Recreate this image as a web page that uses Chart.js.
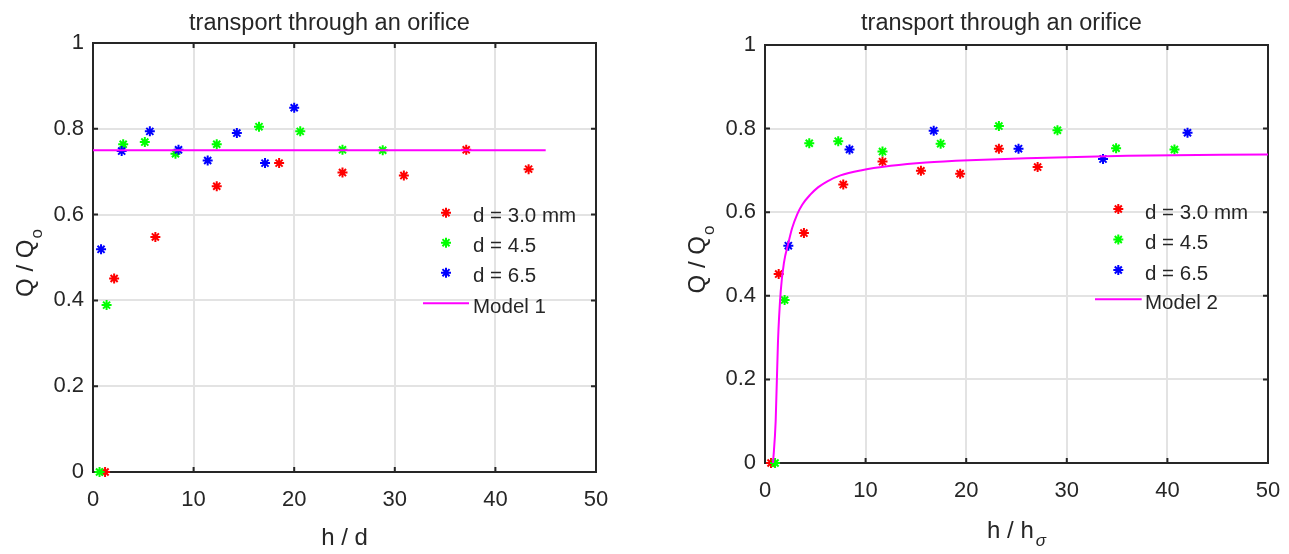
<!DOCTYPE html>
<html>
<head>
<meta charset="utf-8">
<title>transport through an orifice</title>
<script src="https://cdn.jsdelivr.net/npm/chart.js@4.4.1/dist/chart.umd.min.js"></script>
<style>
  html, body { margin: 0; padding: 0; background: #fff; }
  #wrap { position: relative; width: 1289px; height: 554px; overflow: hidden; }
  .panel { position: absolute; top: 0; height: 554px; }
  #p1 { left: 0; width: 645px; }
  #p2 { left: 645px; width: 644px; }
</style>
</head>
<body>
<div id="wrap">
  <div class="panel" id="p1"><canvas id="c1" width="645" height="554"></canvas></div>
  <div class="panel" id="p2"><canvas id="c2" width="644" height="554"></canvas></div>
</div>
<script>
(function () {
  'use strict';

  // ticks (shared by both panels)
  var xTicks = [0, 10, 20, 30, 40, 50];
  var xTickLabels = ['0', '10', '20', '30', '40', '50'];
  var yTicks = [0, 0.2, 0.4, 0.6, 0.8, 1];
  var yTickLabels = ['0', '0.2', '0.4', '0.6', '0.8', '1'];

  // left panel: Q/Qo vs h/d
  var red1X = [1.2, 2.1, 6.2, 12.3, 18.5, 24.8, 30.9, 37.1, 43.3];
  var red1Y = [0, 0.451, 0.548, 0.666, 0.72, 0.698, 0.691, 0.751, 0.706];
  var green1X = [0.65, 1.35, 3.0, 5.15, 8.2, 12.3, 16.5, 20.6, 24.8, 28.8];
  var green1Y = [0, 0.389, 0.764, 0.769, 0.742, 0.764, 0.805, 0.794, 0.751, 0.75];
  var blue1X = [0.8, 2.85, 5.65, 8.5, 11.4, 14.3, 17.1, 20.0];
  var blue1Y = [0.519, 0.748, 0.794, 0.751, 0.726, 0.79, 0.72, 0.849];
  var model1X = [0, 45];
  var model1Y = [0.75, 0.75];
  var legend1 = ['d = 3.0 mm', 'd = 4.5', 'd = 6.5', 'Model 1'];

  // right panel: Q/Qo vs h/h_sigma
  var red2X = [0.6, 1.36, 3.87, 7.78, 11.68, 15.5, 19.4, 23.25, 27.1];
  var red2Y = [0, 0.452, 0.55, 0.666, 0.721, 0.699, 0.692, 0.752, 0.708];
  var green2X = [1.0, 1.95, 4.4, 7.28, 11.68, 17.46, 23.25, 29.07, 34.9, 40.7];
  var green2Y = [0, 0.39, 0.765, 0.77, 0.745, 0.764, 0.806, 0.796, 0.753, 0.75];
  var blue2X = [2.32, 8.4, 16.77, 25.2, 33.6, 42.0];
  var blue2Y = [0.52, 0.75, 0.795, 0.752, 0.727, 0.79];
  var model2X = [0.8, 1.06, 1.29, 1.56, 1.89, 2.32, 2.7, 3.2, 3.7, 4.5, 5.3, 6.2, 7.5, 9.5, 12.5, 16, 21, 26, 36, 50];
  var model2Y = [0, 0.10, 0.29, 0.41, 0.48, 0.526, 0.562, 0.595, 0.618, 0.642, 0.66, 0.674, 0.688, 0.70, 0.711, 0.719, 0.725, 0.729, 0.735, 0.738];
  var legend2 = ['d = 3.0 mm', 'd = 4.5', 'd = 6.5', 'Model 2'];

  var FONT = '"Liberation Sans", Arial, Helvetica, sans-serif';
  var INK = '#262626';
  var GRID = '#e3e3e3';
  var RED = '#ff0000', GREEN = '#00ff00', BLUE = '#0000ff', MAGENTA = '#ff00ff';

  function pts(xs, ys) {
    return xs.map(function (x, i) { return { x: x, y: ys[i] }; });
  }

  function star(ctx, x, y, r, color) {
    var d = r * Math.SQRT1_2;
    ctx.save();
    ctx.strokeStyle = color;
    ctx.lineWidth = 2;
    ctx.beginPath();
    ctx.moveTo(x - r, y); ctx.lineTo(x + r, y);
    ctx.moveTo(x, y - r); ctx.lineTo(x, y + r);
    ctx.moveTo(x - d, y - d); ctx.lineTo(x + d, y + d);
    ctx.moveTo(x - d, y + d); ctx.lineTo(x + d, y - d);
    ctx.stroke();
    ctx.restore();
  }

  // frame, inward ticks, titles and legend
  function makeDecor(cfg) {
    return {
      id: 'decor',
      beforeDatasetsDraw: function (chart) {
        var a = chart.chartArea, ctx = chart.ctx;
        var xs = chart.scales.x, ys = chart.scales.y;
        ctx.save();
        ctx.strokeStyle = INK;
        ctx.lineWidth = 2;
        ctx.strokeRect(a.left, a.top, a.right - a.left, a.bottom - a.top);
        ctx.beginPath();
        xTicks.forEach(function (v) {
          var px = xs.getPixelForValue(v);
          ctx.moveTo(px, a.bottom); ctx.lineTo(px, a.bottom - 5);
          ctx.moveTo(px, a.top); ctx.lineTo(px, a.top + 5);
        });
        yTicks.forEach(function (v) {
          var py = ys.getPixelForValue(v);
          ctx.moveTo(a.left, py); ctx.lineTo(a.left + 5, py);
          ctx.moveTo(a.right, py); ctx.lineTo(a.right - 5, py);
        });
        ctx.stroke();
        ctx.restore();
      },
      afterDraw: function (chart) {
        var a = chart.chartArea, ctx = chart.ctx;
        var cx = (a.left + a.right) / 2;
        ctx.save();
        ctx.fillStyle = INK;
        ctx.textBaseline = 'alphabetic';

        // title
        ctx.font = '23.5px ' + FONT;
        ctx.textAlign = 'center';
        ctx.fillText('transport through an orifice', cx - 15, 30);

        // x label with optional subscript
        ctx.textAlign = 'left';
        ctx.font = '24px ' + FONT;
        var wMain = ctx.measureText(cfg.xLabel).width;
        var wSub = 0;
        if (cfg.xSub) {
          ctx.font = 'italic 17px ' + FONT;
          wSub = ctx.measureText(cfg.xSub).width + 2;
        }
        var sx = cx - (wMain + wSub) / 2;
        ctx.font = '24px ' + FONT;
        ctx.fillText(cfg.xLabel, sx, cfg.xBase);
        if (cfg.xSub) {
          ctx.font = 'italic 17px ' + FONT;
          ctx.fillText(cfg.xSub, sx + wMain + 2, cfg.xBase + 8);
        }

        // y label Q / Q_o, rotated
        ctx.save();
        ctx.translate(a.left - 60, (a.top + a.bottom) / 2 + 6);
        ctx.rotate(-Math.PI / 2);
        ctx.font = '24px ' + FONT;
        var w1 = ctx.measureText('Q / Q').width;
        ctx.font = '17px ' + FONT;
        var w2 = ctx.measureText('o').width;
        var st = -(w1 + w2) / 2;
        ctx.font = '24px ' + FONT;
        ctx.fillText('Q / Q', st, 0);
        ctx.font = '17px ' + FONT;
        ctx.fillText('o', st + w1 + 1, 9);
        ctx.restore();

        // legend
        var L = cfg.legend;
        var colors = [RED, GREEN, BLUE];
        ctx.font = '20.5px ' + FONT;
        for (var i = 0; i < 3; i++) {
          star(ctx, L.mx, L.rows[i], 5, colors[i]);
          ctx.fillStyle = INK;
          ctx.fillText(L.labels[i], L.tx, L.rows[i] + 9.5);
        }
        ctx.strokeStyle = MAGENTA;
        ctx.lineWidth = 2;
        ctx.beginPath();
        ctx.moveTo(L.lx0, L.rows[3]);
        ctx.lineTo(L.lx1, L.rows[3]);
        ctx.stroke();
        ctx.fillStyle = INK;
        ctx.fillText(L.labels[3], L.tx, L.rows[3] + 9.5);
        ctx.restore();
      }
    };
  }

  function scatterSet(label, xs, ys, color, order) {
    return {
      label: label,
      data: pts(xs, ys),
      pointStyle: 'star',
      pointRadius: 5,
      pointHoverRadius: 5,
      pointBorderWidth: 2,
      borderColor: color,
      backgroundColor: color,
      showLine: false,
      clip: false,
      order: order
    };
  }

  function makeChart(canvasId, sets, layout, decorCfg) {
    return new Chart(document.getElementById(canvasId), {
      type: 'scatter',
      data: {
        datasets: [
          scatterSet(sets.labels[0], sets.rx, sets.ry, RED, 4),
          scatterSet(sets.labels[1], sets.gx, sets.gy, GREEN, 3),
          scatterSet(sets.labels[2], sets.bx, sets.by, BLUE, 2),
          {
            label: sets.labels[3],
            data: pts(sets.mx, sets.my),
            showLine: true,
            borderColor: MAGENTA,
            backgroundColor: MAGENTA,
            borderWidth: 2,
            pointRadius: 0,
            pointHoverRadius: 0,
            cubicInterpolationMode: 'monotone',
            clip: false,
            order: 1
          }
        ]
      },
      options: {
        responsive: false,
        animation: false,
        devicePixelRatio: 1,
        layout: { padding: { left: 0, top: layout.top, right: layout.right, bottom: 0 } },
        plugins: { legend: { display: false }, title: { display: false }, tooltip: { enabled: false } },
        scales: {
          x: {
            type: 'linear', min: 0, max: 50,
            afterBuildTicks: function (s) { s.ticks = xTicks.map(function (v) { return { value: v }; }); },
            afterFit: function (s) { s.height = layout.xh; s.paddingLeft = 0; s.paddingRight = 0; },
            ticks: {
              color: INK, font: { family: FONT, size: 22 }, padding: 15,
              maxRotation: 0, autoSkip: false,
              callback: function (v, i) { return xTickLabels[i]; }
            },
            grid: { color: GRID, lineWidth: 2, drawTicks: false },
            border: { display: false }
          },
          y: {
            type: 'linear', min: 0, max: 1,
            afterBuildTicks: function (s) { s.ticks = yTicks.map(function (v) { return { value: v }; }); },
            afterFit: function (s) { s.width = layout.yw; s.paddingTop = 0; s.paddingBottom = 0; },
            ticks: {
              color: INK, font: { family: FONT, size: 22 }, padding: 9,
              callback: function (v, i) { return yTickLabels[i]; }
            },
            grid: { color: GRID, lineWidth: 2, drawTicks: false },
            border: { display: false }
          }
        }
      },
      plugins: [makeDecor(decorCfg)]
    });
  }

  makeChart('c1',
    { rx: red1X, ry: red1Y, gx: green1X, gy: green1Y, bx: blue1X, by: blue1Y, mx: model1X, my: model1Y, labels: legend1 },
    { top: 43, right: 49, xh: 82, yw: 93 },
    { xLabel: 'h / d', xSub: '', xBase: 545,
      legend: { labels: legend1, mx: 446, tx: 473, lx0: 423, lx1: 469, rows: [212.7, 242.7, 272.7, 303.3] } });

  makeChart('c2',
    { rx: red2X, ry: red2Y, gx: green2X, gy: green2Y, bx: blue2X, by: blue2Y, mx: model2X, my: model2Y, labels: legend2 },
    { top: 45, right: 21, xh: 91, yw: 120 },
    { xLabel: 'h / h', xSub: 'σ', xBase: 538,
      legend: { labels: legend2, mx: 473.3, tx: 500, lx0: 450, lx1: 496.7, rows: [209, 239.5, 270, 299.3] } });
})();
</script>
</body>
</html>
